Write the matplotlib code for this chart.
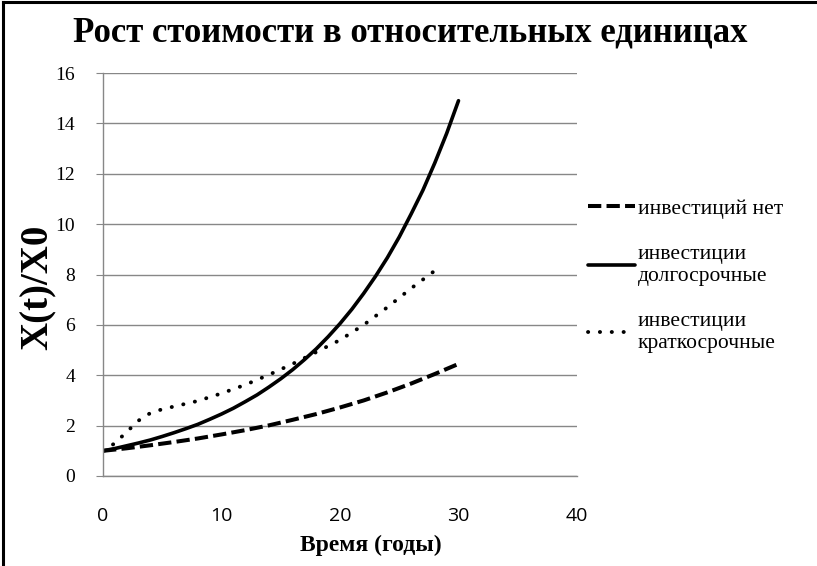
import matplotlib
matplotlib.use("Agg")
import matplotlib.pyplot as plt
from matplotlib.lines import Line2D

# --- data ---
years_long = list(range(0, 31))
long_term = [1.00, 1.09, 1.20, 1.31, 1.43, 1.57, 1.72, 1.88, 2.05, 2.25,
             2.46, 2.69, 2.95, 3.22, 3.53, 3.86, 4.22, 4.62, 5.05, 5.53,
             6.05, 6.62, 7.25, 7.93, 8.67, 9.49, 10.4, 11.35, 12.43, 13.6, 14.9]

years_none = [0, 2, 4, 6, 8, 10, 12, 14, 16, 18, 20, 22, 24, 26, 28, 30]
no_invest = [1.00, 1.10, 1.22, 1.35, 1.49, 1.65, 1.82, 2.01, 2.23, 2.46,
             2.72, 3.00, 3.32, 3.67, 4.05, 4.45]

years_short = [0, 1, 2, 3, 4, 5, 6, 8, 10, 12, 14, 16, 18, 20, 22, 24, 26, 28]
short_term = [1.00, 1.30, 1.75, 2.20, 2.50, 2.65, 2.76, 2.98, 3.28, 3.62,
              4.02, 4.45, 4.92, 5.40, 6.00, 6.70, 7.45, 8.15]

labels = ["инвестиций нет", "инвестиции\nдолгосрочные", "инвестиции\nкраткосрочные"]
x_ticks = [0, 10, 20, 30, 40]
y_ticks = [0, 2, 4, 6, 8, 10, 12, 14, 16]

W, H = 817, 566
fig = plt.figure(figsize=(W / 100, H / 100), dpi=100)
ax = fig.add_axes([103 / W, 1 - 476 / H, 474 / W, 403 / H])

grey = "#878787"

# dash patterns are in linewidth units (lines.scale_dashes)
l1, = ax.plot(years_none, no_invest, color="black", lw=2.9, label=labels[0])
l1.set_dashes([3.3, 1.3])
l2, = ax.plot(years_long, long_term, color="black", lw=2.6, label=labels[1],
              solid_capstyle="round")
l3, = ax.plot(years_short, short_term, color="black", lw=2.8, label=labels[2],
              dash_capstyle="round")
l3.set_dashes([0.05, 3.0])

ax.set_xlim(0, 40)
ax.set_ylim(0, 16)
ax.set_xticks(x_ticks)
ax.set_yticks(y_ticks)
ax.grid(axis="y", color=grey, lw=1)
ax.set_axisbelow(True)
for s in ["top", "right"]:
    ax.spines[s].set_visible(False)
for s in ["left", "bottom"]:
    ax.spines[s].set_color(grey)
    ax.spines[s].set_linewidth(1)

ax.tick_params(axis="y", direction="out", length=5, color=grey, pad=15,
               labelsize=14)
for t in ax.get_yticklabels():
    t.set_fontfamily("Liberation Serif")
ax.tick_params(axis="x", length=0, pad=22, labelsize=14)
for t in ax.get_xticklabels():
    t.set_fontfamily("Open Sans")

ax.set_xlabel("Время (годы)", fontfamily="Liberation Serif", fontweight="bold",
              fontsize=17)
ax.xaxis.set_label_coords(0.565, -0.171)
ax.xaxis.label.set_va("center")
ax.set_ylabel("X(t)/X0", fontfamily="Liberation Serif", fontweight="bold",
              fontsize=28)
ax.yaxis.set_label_coords(-0.137, 0.469)
ax.yaxis.label.set_va("center")

fig.text(410 / W, 1 - 33 / H, "Рост стоимости в относительных единицах",
         ha="center", va="center", fontfamily="Liberation Serif",
         fontweight="bold", fontsize=25)

leg = fig.legend(handles=[l1, l2, l3], loc="center left",
                 bbox_to_anchor=(588 / W, 1 - 276 / H), frameon=False,
                 borderpad=0, borderaxespad=0, handlelength=2.2,
                 handletextpad=0.12, labelspacing=1.22,
                 prop={"family": "Liberation Serif", "size": 15.5})

# chart frame (only left and top edges visible in the crop)
fig.add_artist(Line2D([3.5 / W, 3.5 / W], [0, 1 - 1.5 / H], color="black",
                      lw=2.2, transform=fig.transFigure))
fig.add_artist(Line2D([3.5 / W, 1], [1 - 1.5 / H, 1 - 1.5 / H], color="black",
                      lw=2.2, transform=fig.transFigure))

fig.savefig("out.png", dpi=100)
